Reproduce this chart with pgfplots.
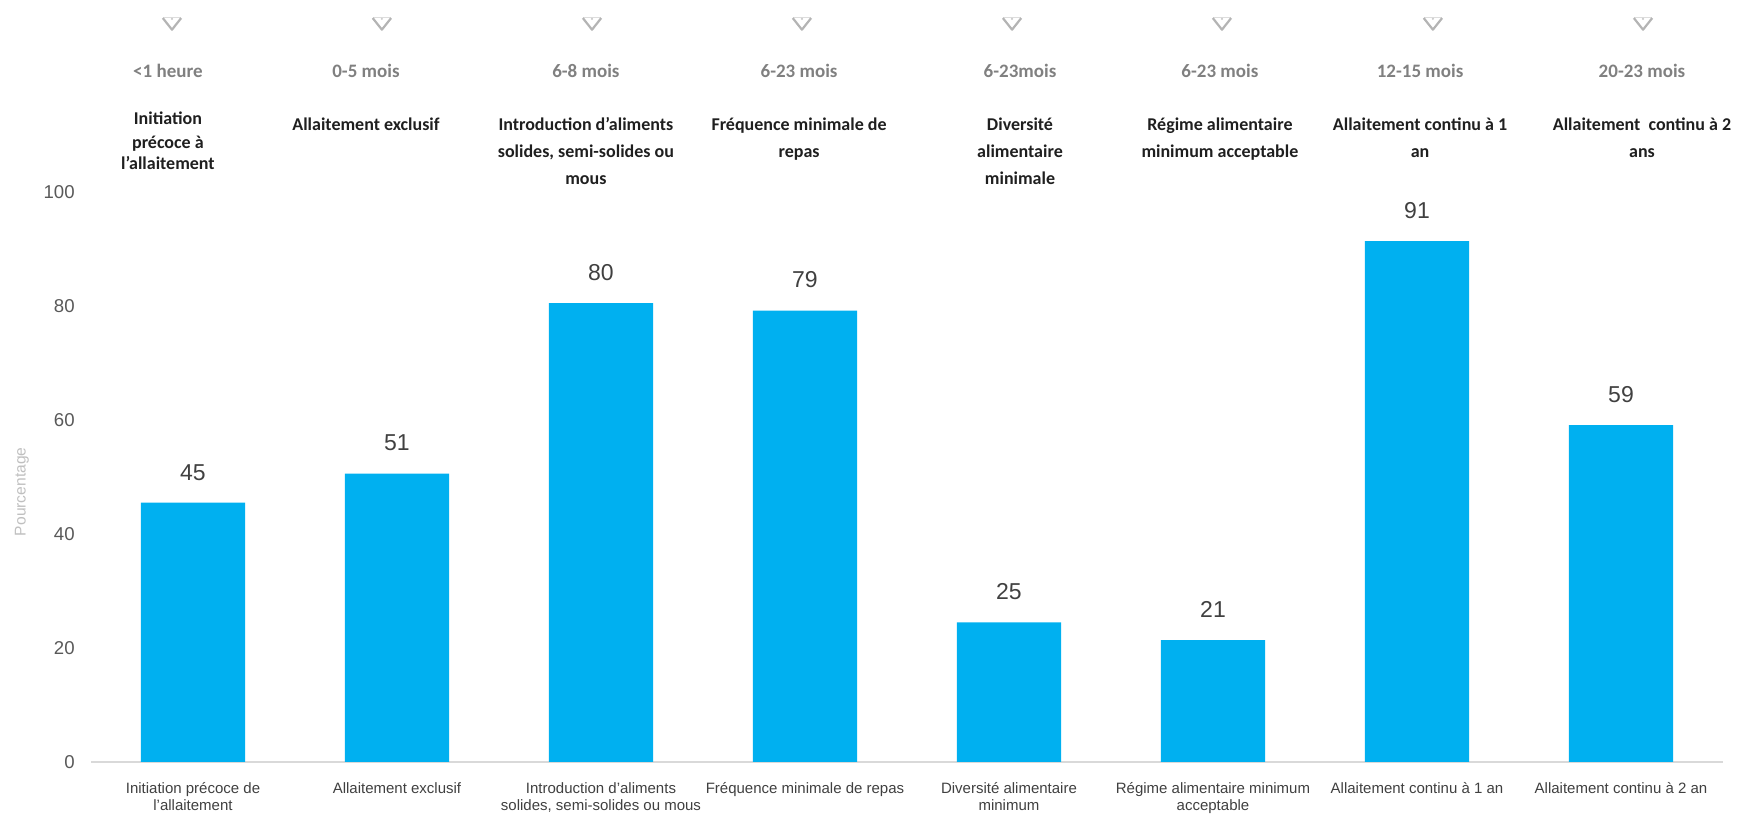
\documentclass[border=0pt]{standalone}
\usepackage{fontspec}
\setmainfont{Liberation Sans}
\newfontfamily\carlito{Carlito}
\usepackage{pgfplots}
\usepackage{pgfplotstable}
\pgfplotsset{compat=1.18}
\usetikzlibrary{calc}
\definecolor{barblue}{HTML}{00B0F0}
\definecolor{ticktxt}{HTML}{595959}
\definecolor{xlab}{HTML}{404040}
\definecolor{valtxt}{HTML}{404040}
\definecolor{agegray}{HTML}{808080}
\definecolor{titletxt}{HTML}{1F1F1F}
\definecolor{chevgray}{HTML}{B4B4B4}

\pgfplotstableread{
x y lab
0 45.5 45
1 50.6 51
2 80.5 80
3 79.2 79
4 24.5 25
5 21.4 21
6 91.4 91
7 59.1 59
}\datatable

\newcommand{\hdr}[3]{\node[anchor=base, inner sep=0pt, font={\carlito\bfseries\fontsize{9}{11}\selectfont}, text=titletxt] at (axis cs:#1,#2) {#3};}
\newcommand{\age}[2]{\node[anchor=center, inner sep=0pt, font={\carlito\bfseries\fontsize{9.5}{11}\selectfont}, text=agegray] at (axis cs:#1,121.2) {#2};}
\newcommand{\chev}[1]{\draw[chevgray!45, line width=0.5pt] ($(axis cs:#1,129.6)+(-4.6pt,3pt)$) -- ($(axis cs:#1,129.6)+(4.6pt,3pt)$);
\draw[chevgray, line width=1.1pt, line join=round] ($(axis cs:#1,129.6)+(-4.6pt,2.6pt)$) -- ($(axis cs:#1,129.6)+(0pt,-3.2pt)$) -- ($(axis cs:#1,129.6)+(4.6pt,2.6pt)$);
\fill[chevgray!70] ($(axis cs:#1,129.6)+(0pt,2.2pt)$) circle (0.6pt);}

\begin{document}
\begin{tikzpicture}
\useasboundingbox (-45.5pt,-27.5pt) rectangle (824pt,381pt);
\begin{axis}[
  scale only axis,
  width=816pt, height=285pt,
  xmin=-0.5, xmax=7.5, ymin=0, ymax=100,
  axis x line*=bottom, axis y line*=left,
  x axis line style={draw=black!15, line width=1pt},
  y axis line style={draw=none},
  major tick length=0pt,
  ytick={0,20,40,60,80,100},
  yticklabel style={font=\fontsize{9.3}{11}\selectfont, text=ticktxt, inner sep=0pt, xshift=-8pt},
  /pgf/number format/assume math mode=true,
  xtick=data,
  xticklabels={{Initiation précoce de\\l’allaitement},{Allaitement exclusif},{Introduction d’aliments\\solides, semi-solides ou mous},{Fréquence minimale de repas},{Diversité alimentaire\\minimum},{Régime alimentaire minimum\\acceptable},{Allaitement continu à 1 an},{Allaitement continu à 2 an}},
  xticklabel style={align=center, font=\fontsize{7.5}{8.5}\selectfont, text=xlab, inner sep=0pt, yshift=-10pt},
  clip=false,
  ybar, bar width=0.51,
  point meta=explicit symbolic,
  nodes near coords,
  nodes near coords style={anchor=south, inner sep=0pt, yshift=11pt, font=\fontsize{11.5}{13}\selectfont, text=valtxt},
]
\addplot[fill=barblue, draw=none] table[x=x, y=y, meta=lab] {\datatable};

% y label
\node[rotate=90, anchor=center, inner sep=0pt, font=\fontsize{7.8}{9}\selectfont, text=black!25] at ($(axis cs:-0.5,47.4)+(-34.5pt,0pt)$) {Pourcentage};

% chevrons
\chev{-0.103}\chev{0.926}\chev{1.956}\chev{2.985}\chev{4.015}\chev{5.044}\chev{6.078}\chev{7.108}

% age labels
\age{-0.123}{<1 heure}
\age{0.848}{0-5 mois}
\age{1.926}{6-8 mois}
\age{2.971}{6-23 mois}
\age{4.054}{6-23mois}
\age{5.034}{6-23 mois}
\age{6.015}{12-15 mois}
\age{7.103}{20-23 mois}

% titles
\hdr{-0.123}{111.8}{Initiation}
\hdr{-0.123}{107.7}{précoce à}
\hdr{-0.123}{104.0}{l’allaitement}
\hdr{0.848}{110.8}{Allaitement exclusif}
\hdr{1.926}{110.8}{Introduction d’aliments}
\hdr{1.926}{106.1}{solides, semi-solides ou}
\hdr{1.926}{101.4}{mous}
\hdr{2.971}{110.8}{Fréquence minimale de}
\hdr{2.971}{106.1}{repas}
\hdr{4.054}{110.8}{Diversité}
\hdr{4.054}{106.1}{alimentaire}
\hdr{4.054}{101.4}{minimale}
\hdr{5.034}{110.8}{Régime alimentaire}
\hdr{5.034}{106.1}{minimum acceptable}
\hdr{6.015}{110.8}{Allaitement continu à 1}
\hdr{6.015}{106.1}{an}
\hdr{7.103}{110.8}{Allaitement\ \ continu à 2}
\hdr{7.103}{106.1}{ans}
\end{axis}
\end{tikzpicture}
\end{document}
